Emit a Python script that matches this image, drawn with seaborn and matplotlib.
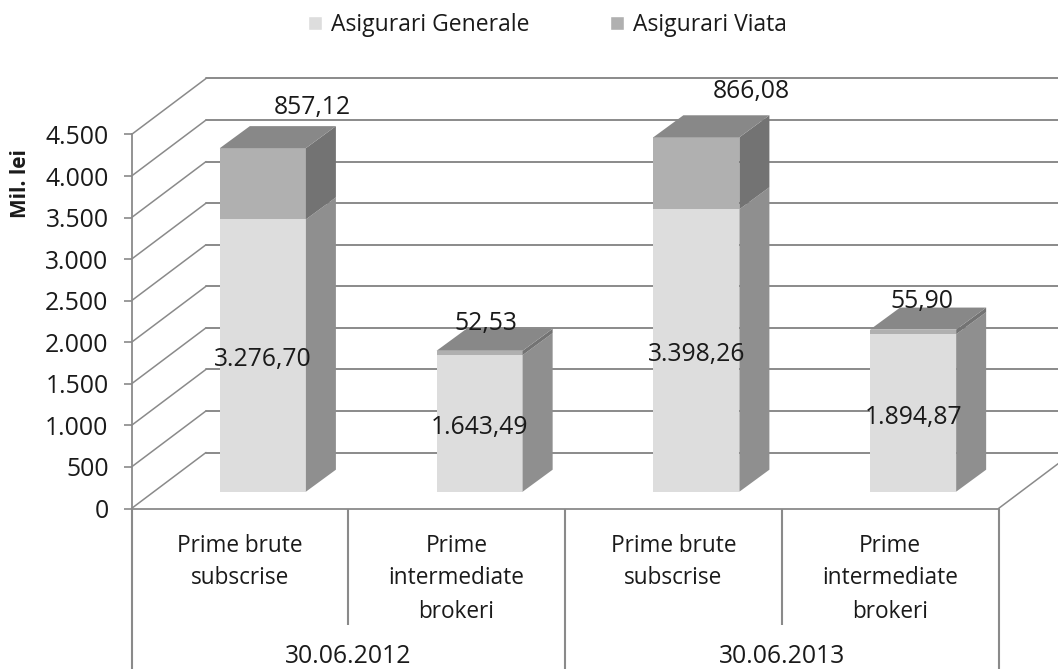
import pandas as pd
import seaborn as sns
import matplotlib.pyplot as plt
from matplotlib.patches import Patch, Polygon

sns.set_theme(style="white")
plt.rcParams["font.family"] = ["Open Sans", "DejaVu Sans"]

# data
periods = ["30.06.2012", "30.06.2013"]
categories = ["Prime brute\nsubscrise", "Prime\nintermediate\nbrokeri"]
generale = [3276.70, 1643.49, 3398.26, 1894.87]
viata = [857.12, 52.53, 866.08, 55.90]
yticks = [0, 500, 1000, 1500, 2000, 2500, 3000, 3500, 4000, 4500]

df = pd.DataFrame({
    "key": [f"{p} {c}" for p in periods for c in categories],
    "generale": generale,
    "viata": viata,
})

W, H = 1058, 670
GRID = "#8a8a8a"
TXT = "#1a1a1a"
FS = 16.3
FS_NUM = 17.8


def px_axes(left, top, right, bottom):
    return [left / W, (H - bottom) / H, (right - left) / W, (bottom - top) / H]


def comma(v):
    s = f"{v:,.2f}"
    return s.replace(",", "X").replace(".", ",").replace("X", ".")


fig = plt.figure(figsize=(W / 100, H / 100), dpi=100)

# front plane: axis, ticks, walls
base = fig.add_axes(px_axes(131.5, 134.5, 998.5, 508.5))
base.set_xlim(-0.5, 3.5)
base.set_ylim(0, 4500)
base.set_xticks([])
base.set_yticks(yticks)
base.set_yticklabels([f"{v:,}".replace(",", ".") for v in yticks], fontsize=FS_NUM, color=TXT)
base.tick_params(axis="y", left=True, length=5.5, width=1.2, color=GRID, pad=11)
for side in ["top", "right"]:
    base.spines[side].set_visible(False)
for side in ["left", "bottom"]:
    base.spines[side].set_color(GRID)
    base.spines[side].set_linewidth(1.3)
base.set_ylabel("Mil. lei", fontsize=15, fontweight="bold", color=TXT, va="center")
base.yaxis.set_label_coords((20 - 131.5) / 867, 0.87)

wall_dx = 74.5 / 216.75
wall_dy = 56 / (374 / 4500)
for v in yticks:
    base.plot([-0.5, -0.5 + wall_dx], [v, v + wall_dy], color=GRID, lw=1.1, clip_on=False)
    base.plot([-0.5 + wall_dx, 4.0], [v + wall_dy, v + wall_dy], color=GRID, lw=1.4, clip_on=False)
base.plot([3.5, 3.5 + wall_dx], [0, wall_dy], color=GRID, lw=1.1, clip_on=False)

# multi level category axis
xt = base.get_xaxis_transform()
base.vlines([-0.5, 1.5, 3.5], 0, -0.43, color=GRID, lw=1.5, transform=xt, clip_on=False)
base.vlines([0.5, 2.5], 0, -0.311, color=GRID, lw=1.5, transform=xt, clip_on=False)
for i, key in enumerate(df["key"]):
    base.annotate(categories[i % 2], xy=(i, 0), xycoords=xt, xytext=(0, -18),
                  textcoords="offset points", ha="center", va="top", fontsize=FS,
                  color=TXT, linespacing=1.5)
for i, p in enumerate(periods):
    base.annotate(p, xy=(0.5 + 2 * i, 0), xycoords=xt, xytext=(0, -111),
                  textcoords="offset points", ha="center", va="baseline", fontsize=FS_NUM,
                  color=TXT)

# bars sit a bit inside the floor
ax = fig.add_axes(px_axes(154.5, 117.7, 1021.5, 491.7))
ax.patch.set_alpha(0)
sns.barplot(data=df, x="key", y="generale", color="#dddddd", width=0.397, saturation=1,
            linewidth=0, ax=ax)
n_gen = len(ax.patches)
sns.barplot(data=df, x="key", y="viata", bottom=df["generale"].values, color="#b0b0b0",
            width=0.397, saturation=1, linewidth=0, ax=ax)
ax.set_xlim(-0.5, 3.5)
ax.set_ylim(0, 4500)
ax.axis("off")

depth_x = 30 / 216.75
depth_y = 22 / (374 / 4500)
bars = list(ax.patches)
for j, bar in enumerate(bars):
    x0, x1 = bar.get_x(), bar.get_x() + bar.get_width()
    y0, y1 = bar.get_y(), bar.get_y() + bar.get_height()
    side_col = "#8f8f8f" if j < n_gen else "#737373"
    ax.add_patch(Polygon([(x1, y0), (x1 + depth_x, y0 + depth_y), (x1 + depth_x, y1 + depth_y), (x1, y1)],
                         closed=True, fc=side_col, ec="none", clip_on=False))
    # only the upper segment shows its top
    if j >= n_gen:
        ax.add_patch(Polygon([(x0, y1), (x0 + depth_x, y1 + depth_y), (x1 + depth_x, y1 + depth_y), (x1, y1)],
                             closed=True, fc="#888888", ec="none", clip_on=False))

# data labels, the upper ones were moved by hand in the original
top_offsets = [(49, -41), (6, -27), (55, -46), (9, -28)]
for i in range(len(df)):
    g, v = generale[i], viata[i]
    ax.annotate(comma(g), xy=(i, g / 2), xytext=(0, -3), textcoords="offset points",
                ha="center", va="center", fontsize=FS_NUM, color=TXT, zorder=10)
    dx, dy = top_offsets[i]
    ax.annotate(comma(v), xy=(i, g + v), xytext=(dx * 0.72, -dy * 0.72), textcoords="offset points",
                ha="center", va="center", fontsize=FS_NUM, color=TXT, zorder=10, annotation_clip=False)

handles = [Patch(fc="#dddddd", label="Asigurari Generale"), Patch(fc="#b0b0b0", label="Asigurari Viata")]
fig.legend(handles=handles, loc="center", bbox_to_anchor=(547.5 / W, 1 - 25 / H), ncol=2, frameon=False,
           fontsize=16.5, labelcolor=TXT, handlelength=0.6, handleheight=0.6, handletextpad=0.4,
           columnspacing=3.5)

fig.savefig("out.png", dpi=100)
